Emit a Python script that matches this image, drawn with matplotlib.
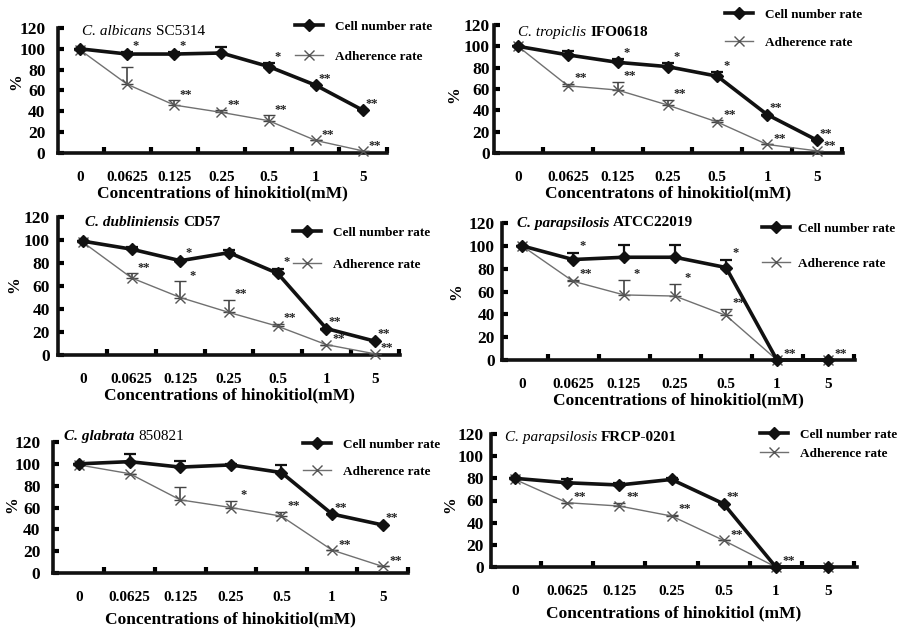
import matplotlib
matplotlib.use("Agg")
import matplotlib.pyplot as plt
import numpy as np

plt.rcParams['font.family'] = ['Liberation Serif', 'DejaVu Serif']

conc_labels = ['0', '0.0625', '0.125', '0.25', '0.5', '1', '5']

# Panel 1: C. albicans SC5314
p1_cell = [100, 95, 95, 96, 83, 65, 41]
p1_cell_err = [0, 2, 2, 6, 3, 0, 0]
p1_adh = [99, 66, 46, 39, 31, 12, 2]
p1_adh_err = [0, 17, 5, 2, 5, 0, 0]
p1_cell_sig = ['', '*', '*', '', '*', '**', '**']
p1_adh_sig = ['', '', '**', '**', '**', '**', '**']

# Panel 2: C. tropiclis IFO0618
p2_cell = [100, 92, 85, 81, 72, 36, 12]
p2_cell_err = [0, 4, 3, 3, 4, 0, 0]
p2_adh = [100, 63, 59, 45, 29, 8, 2]
p2_adh_err = [0, 2, 8, 5, 2, 0, 0]
p2_cell_sig = ['', '', '*', '*', '*', '**', '**']
p2_adh_sig = ['', '**', '**', '**', '**', '**', '**']

# Panel 3: C. dubliniensis CD57
p3_cell = [99, 92, 82, 89, 71, 23, 12]
p3_cell_err = [0, 2, 1, 2, 4, 0, 0]
p3_adh = [98, 67, 50, 37, 25, 9, 1]
p3_adh_err = [0, 4, 14, 11, 2, 0, 0]
p3_cell_sig = ['', '', '*', '', '*', '**', '**']
p3_adh_sig = ['', '**', '*', '**', '**', '**', '**']

# Panel 4: C. parapsilosis ATCC22019
p4_cell = [100, 88, 90, 90, 81, 0, 0]
p4_cell_err = [0, 6, 11, 11, 7, 0, 0]
p4_adh = [100, 69, 57, 56, 39, 0, 0]
p4_adh_err = [0, 1, 13, 11, 6, 0, 0]
p4_cell_sig = ['', '*', '', '', '*', '', '']
p4_adh_sig = ['', '**', '*', '*', '**', '**', '**']

# Panel 5: C. glabrata 850821
p5_cell = [100, 102, 97, 99, 92, 54, 44]
p5_cell_err = [0, 7, 6, 1, 7, 0, 0]
p5_adh = [99, 91, 67, 60, 52, 21, 6]
p5_adh_err = [0, 0, 12, 6, 4, 0, 0]
p5_cell_sig = ['', '', '', '', '', '**', '**']
p5_adh_sig = ['', '', '', '*', '**', '**', '**']

# Panel 6: C. parapsilosis FRCP-0201
p6_cell = [80, 76, 74, 79, 57, 0, 0]
p6_cell_err = [0, 3, 2, 1, 0, 0, 0]
p6_adh = [79, 58, 55, 46, 24, 0, 0]
p6_adh_err = [0, 0, 3, 1, 0, 0, 0]
p6_cell_sig = ['', '', '', '', '**', '', '']
p6_adh_sig = ['', '**', '**', '**', '**', '**', '']

species = ['C. albicans', 'C. tropiclis', 'C. dubliniensis',
           'C. parapsilosis', 'C. glabrata', 'C. parapsilosis']
strains = ['SC5314', 'IFO0618', 'CD57', 'ATCC22019', '850821', 'FRCP-0201']
xlabels = ['Concentrations of hinokitiol(mM)', 'Concentratons of hinokitiol(mM)',
           'Concentrations of hinokitiol(mM)', 'Concentrations of hinokitiol(mM)',
           'Concentrations of hinokitiol(mM)', 'Concentrations of hinokitiol (mM)']
legend_labels = ['Cell number rate', 'Adherence rate']

panels = [
    (p1_cell, p1_cell_err, p1_adh, p1_adh_err, p1_cell_sig, p1_adh_sig),
    (p2_cell, p2_cell_err, p2_adh, p2_adh_err, p2_cell_sig, p2_adh_sig),
    (p3_cell, p3_cell_err, p3_adh, p3_adh_err, p3_cell_sig, p3_adh_sig),
    (p4_cell, p4_cell_err, p4_adh, p4_adh_err, p4_cell_sig, p4_adh_sig),
    (p5_cell, p5_cell_err, p5_adh, p5_adh_err, p5_cell_sig, p5_adh_sig),
    (p6_cell, p6_cell_err, p6_adh, p6_adh_err, p6_cell_sig, p6_adh_sig),
]

# layout in pixels: axis left x, axis right x, y of 120, y of 0, cat0 x, cat6 x
layout = [
    (58, 387, 28, 153, 80, 363),
    (494, 843, 25, 153, 518, 817),
    (58, 400, 217, 355, 83, 375),
    (502, 855, 223, 360, 522, 828),
    (53, 408, 442, 573, 79, 383),
    (491, 857, 434, 567, 515, 828),
]
# legend anchor: handle left x, first entry center y, entry spacing
leg_pos = [
    (295, 27, 31), (725, 15, 29), (293, 233, 33),
    (762, 229, 36), (303, 445, 28), (760, 435, 20),
]
leg_textpad = [0.9, 0.9, 0.9, 0.6, 0.9, 0.9]
title_pos = [(0.05, 117), (0.0, 113), (0.05, 115), (-0.1, 120), (-0.3, 125), (-0.2, 117)]
species_bold = [False, False, True, True, True, False]
strain_bold = [False, True, True, True, False, True]
ytick_pad = [9, 3, 6, 5, 9, 5]
# y-label centre in pixels
ylab_pos = [(18, 82), (456, 95), (16, 285), (458, 292), (14, 505), (452, 505)]

W, H = 901, 633
fig = plt.figure(figsize=(W / 100, H / 100), dpi=100)

for k in range(6):
    cell, cell_err, adh, adh_err, cell_sig, adh_sig = panels[k]
    xl, xr, yt, yb, c0, c6 = layout[k]
    sp = (c6 - c0) / 6.0
    ax = fig.add_axes([xl / W, 1 - yb / H, (xr - xl) / W, (yb - yt) / H])
    x = np.arange(len(conc_labels))
    ax.set_xlim((xl - c0) / sp, 6 + (xr - c6) / sp)
    ax.set_ylim(0, 120)

    ax.errorbar(x, adh, yerr=[np.zeros(len(adh)), adh_err], color='#707070',
                lw=1.0, marker='x', ms=7, mew=1.0, mec='#555555',
                ecolor='#444444', elinewidth=1.2, capsize=4, capthick=1.2,
                clip_on=False, zorder=3, label=legend_labels[1])
    ax.errorbar(x, cell, yerr=[np.zeros(len(cell)), cell_err], color='#111111',
                lw=2.6, marker='D', ms=6, mec='#111111',
                ecolor='#111111', elinewidth=1.6, capsize=4, capthick=1.6,
                clip_on=False, zorder=4, label=legend_labels[0])

    for i in range(len(conc_labels)):
        if cell_sig[i]:
            ax.text(x[i] + 0.18, cell[i] + cell_err[i] + 6, cell_sig[i],
                    ha='center', va='center', fontsize=9, fontweight='bold', color='#222222')
        if adh_sig[i]:
            ax.text(x[i] + 0.25, adh[i] + adh_err[i] + 5, adh_sig[i],
                    ha='center', va='center', fontsize=9, fontweight='bold', color='#222222')

    for s in ['top', 'right']:
        ax.spines[s].set_visible(False)
    for s in ['left', 'bottom']:
        ax.spines[s].set_linewidth(2.6)
        ax.spines[s].set_color('#111111')

    ax.set_yticks(np.arange(0, 121, 20))
    ax.tick_params(axis='y', direction='in', length=4, width=3, labelsize=12.5,
                   pad=ytick_pad[k])
    ax.set_xticks(x)
    ax.set_xticklabels(conc_labels)
    ax.tick_params(axis='x', length=0, labelsize=11, pad=13)
    ax.set_xticks(np.arange(0.5, 7.0, 1.0), minor=True)
    ax.tick_params(axis='x', which='minor', direction='in', length=4, width=3)
    for lab in ax.get_xticklabels() + ax.get_yticklabels():
        lab.set_fontweight('bold')

    ax.set_xlabel(xlabels[k], fontsize=12.5, fontweight='bold', labelpad=1 if k < 4 else 5)
    ax.set_ylabel('%', fontsize=12, fontweight='bold')
    yx, yy = ylab_pos[k]
    ax.yaxis.set_label_coords((yx + 6) / W, 1 - yy / H, transform=fig.transFigure)

    tx, ty = title_pos[k]
    t1 = ax.text(tx, ty, species[k], fontsize=11, style='italic',
                 fontweight='bold' if species_bold[k] else 'normal', va='center', ha='left')
    ax.annotate(strains[k], xy=(1, 0), xycoords=t1, xytext=(3, 0),
                textcoords='offset points', fontsize=11,
                fontweight='bold' if strain_bold[k] else 'normal', va='bottom', ha='left')

    lx, ly, lsp = leg_pos[k]
    h, l = ax.get_legend_handles_labels()
    order = [l.index(legend_labels[0]), l.index(legend_labels[1])]
    hh = [h[o][0] for o in order]
    fs = 9.5
    fs_px = fs * 100 / 72.0
    ax.legend(hh, [l[o] for o in order], loc='upper left',
              bbox_to_anchor=(lx / W, 1 - (ly - fs_px * 0.5) / H),
              bbox_transform=fig.transFigure, frameon=False,
              borderpad=0, borderaxespad=0, handlelength=2.1,
              handletextpad=leg_textpad[k], labelspacing=(lsp - fs_px) / fs_px,
              prop={'size': fs, 'weight': 'bold'})

fig.savefig('out.png', dpi=100)
